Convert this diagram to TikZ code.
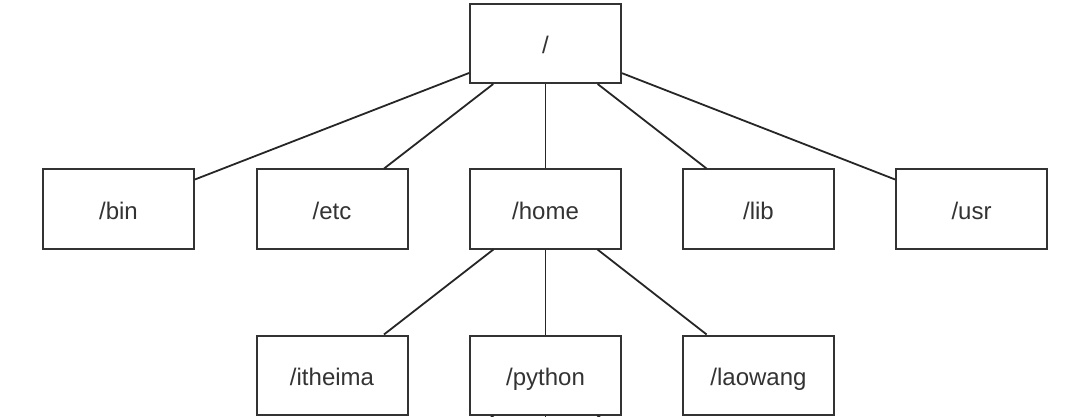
\documentclass[tikz,border=0pt]{standalone}
\usepackage{fontspec}
\setmainfont{Liberation Sans}
\begin{document}
\begin{tikzpicture}[x=1pt,y=-1pt,
  dirbox/.style={draw=black!80, line width=2pt, fill=white, minimum width=151pt, minimum height=79pt, inner sep=0pt, text height=20pt, text depth=0pt, text=black!80, font=\fontsize{24}{28}\selectfont},
  link/.style={draw=black!85, line width=1.8pt}]
\clip (0,0) rectangle (1080,417);
\useasboundingbox (0,0) rectangle (1080,417);
\node[dirbox] (root) at (545.5,43.5) {/};
\node[dirbox] (bin) at (118.5,209) {/bin};
\node[dirbox] (etc) at (332,209) {/etc};
\node[dirbox] (home) at (545.5,209) {/home};
\node[dirbox] (lib) at (758.5,209) {/lib};
\node[dirbox] (usr) at (971.5,209) {/usr};
\node[dirbox] (itheima) at (332,375) {/itheima};
\node[dirbox] (python) at (545.5,375) {/python};
\node[dirbox] (laowang) at (758.5,375) {/laowang};
\coordinate (d1) at (332,541);
\coordinate (d2) at (545.5,541);
\coordinate (d3) at (758.5,541);
\foreach \c in {bin,etc,home,lib,usr} \draw[link] (root) -- (\c);
\foreach \c in {itheima,python,laowang} \draw[link] (home) -- (\c);
\foreach \c in {d1,d2,d3} \draw[link] (python) -- (\c);
\end{tikzpicture}
\end{document}
